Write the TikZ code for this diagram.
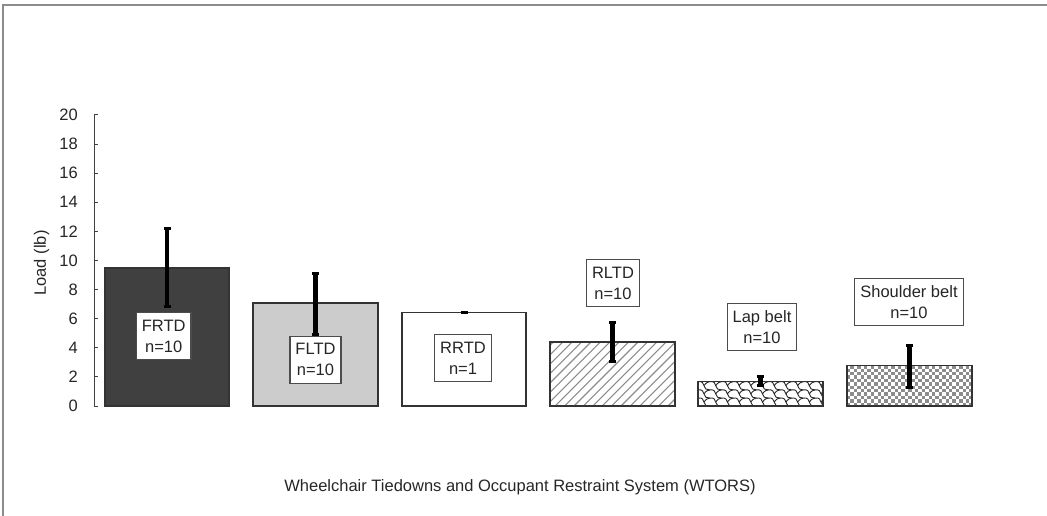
\documentclass[tikz,border=0pt]{standalone}
\usepackage{fontspec}
\setmainfont{Liberation Sans}
\begin{document}
\begin{tikzpicture}[x=1pt,y=-1pt]
\tikzset{
 txt/.style={font=\fontsize{16.5}{21}\selectfont, text=black!85},
 framel/.style={draw=black!45, line width=2pt},
 axisl/.style={draw=black!75, line width=1pt},
 barline/.style={draw=black!80, line width=1.1pt},
 lbl/.style={txt, draw=black!70, fill=white, line width=1.1pt, align=center, inner xsep=5.5pt, inner ysep=0pt, minimum height=47pt},
 errline/.style={line width=4.5pt, black},
 errcap/.style={line width=3pt, black},
}
\newcommand\myerr[3]{\draw[errline] (#1,#2) -- (#1,#3);
  \draw[errcap] (#1-3.5,#2) -- (#1+3.5,#2) (#1-3.5,#3) -- (#1+3.5,#3);}
\useasboundingbox (0,0) rectangle (1047,516);
% frame
\draw[framel] (3.3,516) -- (3.3,5.3) -- (1047,5.3);
% axis
\draw[axisl] (94,115) -- (94,406);
\foreach \v in {0,2,...,20} {
  \draw[axisl] (94,{406-\v*14.55}) -- (97.5,{406-\v*14.55});
  \node[txt, anchor=east, inner sep=0pt] at (78,{406-\v*14.55}) {\v};
}
\node[txt, rotate=90] (ylab) at (41.5,263) {Load (lb)};
% bars
\fill[black!75] (105,268) rectangle (229,406);
\draw[barline] (105,268) rectangle (229,406);
\fill[black!20] (253,303) rectangle (378,406);
\draw[barline] (253,303) rectangle (378,406);
\fill[white] (402,312.5) rectangle (526,406);
\draw[barline] (402,312.5) rectangle (526,406);
% RLTD hatch
\begin{scope}
\clip (550,342) rectangle (675,406);
\foreach \k in {0,...,22} {
  \draw[black!45, line width=1.1pt] ({480+\k*9.4},406) -- ++(70,-70);
}
\end{scope}
\draw[barline] (550,342) rectangle (675,406);
% Lap belt shingle
\begin{scope}
\clip (698,381.7) rectangle (823,406);
\foreach \i in {-1,...,11} {
  \foreach \j in {0,...,3} {
    \begin{scope}[shift={({698+\i*11.7},{381.7+\j*8.2})}]
    \draw[black!85, line width=0.9pt]
      (0,0) .. controls (4,-1) and (6,2) .. (6,4) .. controls (6,7) and (9,8.4) .. (11.7,8.2)
      (6,4) .. controls (8,1) and (10,0) .. (11.7,0);
    \end{scope}
  }
}
\end{scope}
\draw[barline] (698,381.7) rectangle (823,406);
% Shoulder checker
\begin{scope}
\clip (847,365.7) rectangle (972,406);
\foreach \i in {0,...,37} {
  \foreach \j in {0,...,12} {
    \pgfmathtruncatemacro\chk{mod(\i+\j,2)}
    \ifnum\chk=0
      \fill[black!45] ({847+\i*3.4},{406-\j*3.4}) rectangle ++(3.4,-3.4);
    \fi
  }
}
\end{scope}
\draw[barline] (847,365.7) rectangle (972,406);
% error bars
\myerr{167}{228.3}{306.7}
\myerr{315.5}{273}{334}
\fill[black] (460.5,310.5) rectangle (467.5,314);
\myerr{612.5}{322}{361}
\myerr{760.5}{376.5}{385.5}
\myerr{909.3}{345}{387}
% labels
\node[lbl] (frtd) at (163.7,336.3) {FRTD\\n=10};
\node[lbl] (fltd) at (315.5,359.7) {FLTD\\n=10};
\node[lbl] (rrtd) at (463,358) {RRTD\\n=1};
\node[lbl] (rltd) at (613,283.3) {RLTD\\n=10};
\node[lbl] (lap) at (762,326.7) {Lap belt\\n=10};
\node[lbl] (sho) at (909,302.2) {Shoulder belt\\n=10};
% x title
\node[txt] (xlab) at (520,487) {Wheelchair Tiedowns and Occupant Restraint System (WTORS)};
\end{tikzpicture}
\end{document}
